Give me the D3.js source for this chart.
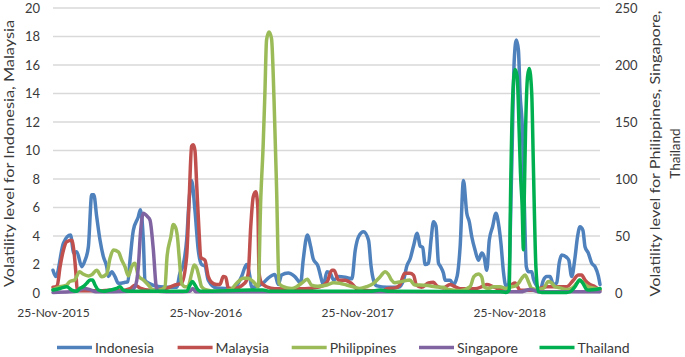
<!DOCTYPE html>
<html lang="en">
<head>
    <meta charset="UTF-8">
    <title>Volatility levels</title>
    <style>
        body { margin: 0; background: #fff; }
        svg text { font-family: Lato, "Liberation Sans", sans-serif; fill: #3a3a3a; }
        .grid line { stroke: #d9d9d9; stroke-width: 1.5; }
    </style>
</head>
<body>
<svg id="chart" width="685" height="357"></svg>
<script src="https://d3js.org/d3.v7.min.js"></script>
<script>
    // series names, in drawing order
    const countries = ["Indonesia", "Malaysia", "Philippines", "Singapore", "Thailand"];
    const colors = ["#4f81bd", "#c0504d", "#9bbb59", "#8064a2", "#00b050"];
    // which axis each series belongs to
    const onRight = [false, false, true, true, true];

    const xTickDates = ["2015-11-25", "2016-11-25", "2017-11-25", "2018-11-25"];
    const leftTicks = [0, 2, 4, 6, 8, 10, 12, 14, 16, 18, 20];
    const rightTicks = [0, 50, 100, 150, 200, 250];

    // values, [date, value]
    const indonesia = [
        ["2015-11-25", 1.6], ["2015-12-02", 1.15], ["2015-12-20", 3.5], ["2016-01-06", 4.07], ["2016-01-14", 2.8],
        ["2016-01-21", 2.9], ["2016-02-02", 1.85], ["2016-02-10", 2.3], ["2016-02-18", 3.25], ["2016-02-26", 6.9],
        ["2016-03-02", 6.9], ["2016-03-09", 5.35], ["2016-03-17", 3.7], ["2016-03-25", 2.55], ["2016-04-02", 1.85],
        ["2016-04-06", 1.15], ["2016-04-14", 1.5], ["2016-04-22", 1.15], ["2016-04-30", 0.68], ["2016-05-16", 0.75],
        ["2016-05-23", 0.8], ["2016-05-28", 2.3], ["2016-06-05", 4.4], ["2016-06-17", 5.35], ["2016-06-22", 5.85],
        ["2016-06-29", 3.7], ["2016-07-03", 0.9], ["2016-07-11", 0.7], ["2016-08-08", 0.44], ["2016-09-17", 0.4],
        ["2016-09-25", 1.4], ["2016-10-03", 2.0], ["2016-10-11", 3.7], ["2016-10-17", 6.5], ["2016-10-23", 7.9],
        ["2016-10-31", 5.8], ["2016-11-08", 3.0], ["2016-11-16", 2.0], ["2016-11-24", 1.9], ["2016-12-02", 0.9],
        ["2016-12-22", 0.35], ["2017-01-31", 0.3], ["2017-02-20", 1.15], ["2017-03-04", 2.0], ["2017-03-12", 1.15],
        ["2017-03-16", 0.4], ["2017-04-13", 0.7], ["2017-04-25", 1.05], ["2017-05-11", 1.3], ["2017-05-19", 0.6],
        ["2017-05-27", 1.26], ["2017-06-12", 1.4], ["2017-06-28", 1.15], ["2017-07-12", 0.7], ["2017-07-18", 2.3],
        ["2017-07-28", 4.07], ["2017-08-05", 3.25], ["2017-08-11", 2.4], ["2017-08-23", 1.85], ["2017-08-27", 1.4],
        ["2017-09-05", 0.56], ["2017-09-13", 1.5], ["2017-09-21", 1.4], ["2017-09-29", 0.9], ["2017-10-11", 1.15],
        ["2017-10-27", 1.1], ["2017-11-12", 1.0], ["2017-11-20", 3.0], ["2017-11-28", 3.95], ["2017-12-10", 4.3],
        ["2017-12-22", 3.7], ["2017-12-28", 1.9], ["2018-01-03", 0.9], ["2018-01-11", 0.5], ["2018-02-04", 0.4],
        ["2018-03-04", 0.4], ["2018-03-16", 0.9], ["2018-03-24", 1.9], ["2018-04-01", 2.4], ["2018-04-09", 3.3],
        ["2018-04-18", 4.2], ["2018-04-25", 3.3], ["2018-05-01", 3.2], ["2018-05-07", 2.0], ["2018-05-15", 2.1],
        ["2018-05-21", 3.7], ["2018-05-27", 5.0], ["2018-06-02", 4.7], ["2018-06-08", 2.1], ["2018-06-12", 1.9],
        ["2018-06-20", 1.38], ["2018-06-24", 0.9], ["2018-07-06", 0.9], ["2018-07-14", 0.6], ["2018-07-23", 1.2],
        ["2018-07-30", 3.25], ["2018-08-07", 7.9], ["2018-08-15", 5.6], ["2018-08-21", 5.0], ["2018-08-27", 3.95],
        ["2018-09-04", 3.0], ["2018-09-12", 2.3], ["2018-09-20", 2.8], ["2018-09-25", 2.6], ["2018-10-02", 1.6],
        ["2018-10-08", 3.7], ["2018-10-16", 4.65], ["2018-10-24", 5.6], ["2018-10-30", 4.9], ["2018-11-05", 3.5],
        ["2018-11-11", 1.5], ["2018-11-17", 0.5], ["2018-11-23", 0.6], ["2018-12-01", 8.9], ["2018-12-07", 16.35],
        ["2018-12-12", 17.75], ["2018-12-17", 17.05], ["2018-12-21", 14.0], ["2018-12-27", 11.2], ["2018-12-31", 6.5],
        ["2019-01-05", 1.85], ["2019-01-10", 1.5], ["2019-01-18", 1.5], ["2019-01-22", 1.0], ["2019-01-30", 0.5],
        ["2019-02-07", 0.2], ["2019-02-15", 0.9], ["2019-02-23", 1.15], ["2019-03-03", 1.15], ["2019-03-11", 0.6],
        ["2019-03-19", 0.7], ["2019-03-25", 2.1], ["2019-03-31", 2.67], ["2019-04-12", 2.5], ["2019-04-17", 2.3],
        ["2019-04-24", 1.15], ["2019-05-02", 2.5], ["2019-05-08", 3.95], ["2019-05-14", 4.65], ["2019-05-21", 4.4],
        ["2019-05-26", 3.25], ["2019-06-03", 2.8], ["2019-06-11", 2.1], ["2019-06-19", 1.85], ["2019-06-27", 1.2],
        ["2019-07-01", 0.6]
    ];

    const malaysia = [
        ["2015-11-25", 0.4], ["2015-12-05", 0.5], ["2015-12-12", 1.85], ["2015-12-20", 3.0], ["2015-12-28", 3.6],
        ["2016-01-09", 3.7], ["2016-01-14", 3.0], ["2016-01-19", 1.4], ["2016-01-22", 0.28], ["2016-01-29", 0.15],
        ["2016-03-17", 0.15], ["2016-04-10", 0.2], ["2016-05-04", 0.15], ["2016-05-28", 0.3], ["2016-06-09", 0.55],
        ["2016-06-21", 0.35], ["2016-07-15", 0.2], ["2016-08-20", 0.3], ["2016-09-13", 0.56], ["2016-09-29", 0.7],
        ["2016-10-11", 2.55], ["2016-10-17", 6.5], ["2016-10-23", 10.3], ["2016-10-27", 10.4], ["2016-10-31", 10.0],
        ["2016-11-04", 7.7], ["2016-11-10", 4.2], ["2016-11-14", 2.5], ["2016-11-24", 2.3], ["2016-12-02", 1.15],
        ["2016-12-10", 0.75], ["2016-12-22", 0.6], ["2016-12-30", 0.6], ["2017-01-07", 1.15], ["2017-01-13", 1.1],
        ["2017-01-19", 0.35], ["2017-01-31", 0.3], ["2017-02-28", 0.7], ["2017-03-08", 1.38], ["2017-03-14", 4.65],
        ["2017-03-20", 6.75], ["2017-03-26", 7.1], ["2017-03-31", 6.0], ["2017-04-03", 1.4], ["2017-04-09", 0.7],
        ["2017-04-21", 0.44], ["2017-05-11", 0.3], ["2017-06-16", 0.3], ["2017-07-22", 0.3], ["2017-08-27", 0.44],
        ["2017-09-13", 0.75], ["2017-09-25", 1.6], ["2017-09-30", 1.6], ["2017-10-11", 0.9], ["2017-10-27", 0.9],
        ["2017-11-07", 0.75], ["2017-11-15", 0.56], ["2017-11-23", 0.3], ["2017-12-25", 0.15], ["2018-01-26", 0.15],
        ["2018-02-04", 0.3], ["2018-02-23", 0.35], ["2018-03-07", 0.56], ["2018-03-19", 1.38], ["2018-03-31", 1.38],
        ["2018-04-09", 1.25], ["2018-04-16", 0.56], ["2018-04-28", 0.4], ["2018-05-15", 0.7], ["2018-05-27", 0.75],
        ["2018-06-04", 0.5], ["2018-06-20", 0.35], ["2018-07-06", 0.6], ["2018-07-14", 0.5], ["2018-07-30", 0.3],
        ["2018-09-04", 0.3], ["2018-09-20", 0.44], ["2018-10-02", 0.6], ["2018-10-17", 0.45], ["2018-11-03", 0.25],
        ["2018-11-17", 0.25], ["2018-12-01", 0.6], ["2018-12-09", 0.7], ["2018-12-21", 0.2], ["2019-01-22", 0.2],
        ["2019-02-23", 0.44], ["2019-04-12", 0.44], ["2019-04-28", 0.9], ["2019-05-10", 1.26], ["2019-05-18", 1.26],
        ["2019-05-26", 0.9], ["2019-06-07", 0.6], ["2019-06-19", 0.44], ["2019-07-01", 0.2]
    ];

    const philippines = [
        ["2015-11-25", 3], ["2015-12-12", 5.5], ["2015-12-28", 7], ["2016-01-04", 10], ["2016-01-16", 11.4],
        ["2016-01-28", 18.7], ["2016-02-05", 16.7], ["2016-02-18", 15], ["2016-02-26", 16], ["2016-03-09", 20],
        ["2016-03-21", 14.3], ["2016-04-02", 16.7], ["2016-04-10", 30.4], ["2016-04-18", 37.7], ["2016-04-30", 36],
        ["2016-05-08", 29], ["2016-05-16", 23], ["2016-05-24", 15], ["2016-06-01", 23], ["2016-06-09", 26],
        ["2016-06-17", 15], ["2016-06-29", 11.4], ["2016-07-11", 7], ["2016-07-23", 2.6], ["2016-08-08", 2.6],
        ["2016-08-20", 5.5], ["2016-08-25", 32], ["2016-09-03", 49], ["2016-09-09", 60], ["2016-09-14", 58],
        ["2016-09-19", 49], ["2016-09-23", 32], ["2016-09-29", 8.5], ["2016-10-07", 5.5], ["2016-10-14", 5.5],
        ["2016-10-23", 17], ["2016-10-29", 24.5], ["2016-11-04", 22], ["2016-11-10", 14], ["2016-11-16", 5.5],
        ["2016-11-28", 2.6], ["2016-12-22", 1.5], ["2017-01-23", 2.6], ["2017-02-08", 8.5], ["2017-02-24", 12.9],
        ["2017-03-08", 12.9], ["2017-03-20", 10], ["2017-04-01", 5.5], ["2017-04-07", 81.6], ["2017-04-13", 131],
        ["2017-04-17", 175], ["2017-04-21", 222], ["2017-04-27", 229], ["2017-05-03", 223], ["2017-05-09", 169],
        ["2017-05-15", 93], ["2017-05-21", 8.5], ["2017-05-31", 5.5], ["2017-06-20", 4], ["2017-07-02", 5.5],
        ["2017-07-14", 8.5], ["2017-07-28", 12], ["2017-08-07", 7], ["2017-08-22", 6], ["2017-09-13", 7],
        ["2017-09-29", 9], ["2017-10-14", 8.5], ["2017-10-30", 7], ["2017-11-15", 5.5], ["2017-12-01", 4],
        ["2017-12-17", 5.5], ["2018-01-03", 8.5], ["2018-01-19", 14.3], ["2018-01-31", 18.7], ["2018-02-07", 16.7],
        ["2018-02-15", 11.4], ["2018-02-23", 9], ["2018-03-11", 10], ["2018-03-31", 11.4], ["2018-04-12", 7],
        ["2018-04-24", 7], ["2018-05-14", 6.5], ["2018-05-31", 5.5], ["2018-06-20", 5], ["2018-07-02", 3],
        ["2018-07-30", 2], ["2018-08-23", 5.5], ["2018-09-01", 14.3], ["2018-09-12", 16.7], ["2018-09-20", 14],
        ["2018-09-25", 5.5], ["2018-10-06", 4], ["2018-10-18", 5.5], ["2018-11-03", 5.5], ["2018-11-17", 4],
        ["2018-12-01", 5.5], ["2018-12-09", 6], ["2018-12-17", 8.5], ["2018-12-25", 12.9], ["2019-01-02", 15.8],
        ["2019-01-10", 10], ["2019-01-18", 4], ["2019-01-30", 3], ["2019-02-15", 4], ["2019-02-27", 10],
        ["2019-03-06", 9], ["2019-03-15", 5.5], ["2019-03-27", 4.5], ["2019-04-12", 3], ["2019-04-24", 4],
        ["2019-05-06", 8.5], ["2019-05-14", 11.4], ["2019-05-22", 8.5], ["2019-06-03", 5.5], ["2019-06-19", 4],
        ["2019-07-01", 3]
    ];

    const singapore = [
        ["2015-11-25", 0.5], ["2016-01-04", 1], ["2016-01-24", 2], ["2016-02-07", 4], ["2016-02-22", 3],
        ["2016-03-07", 1], ["2016-05-28", 1.5], ["2016-06-09", 5.5], ["2016-06-17", 23], ["2016-06-22", 52],
        ["2016-06-29", 70], ["2016-07-09", 67], ["2016-07-15", 64], ["2016-07-23", 38], ["2016-07-30", 5.5],
        ["2016-08-04", 1.5], ["2016-09-13", 1], ["2016-10-19", 1.5], ["2016-10-26", 4], ["2016-11-02", 1],
        ["2017-04-05", 1], ["2017-07-10", 1], ["2018-01-19", 1], ["2018-07-06", 1.2], ["2018-11-03", 1],
        ["2018-12-21", 1], ["2019-01-14", 3], ["2019-02-07", 1], ["2019-05-02", 1], ["2019-07-01", 1]
    ];

    const thailand = [
        ["2015-11-25", 2.6], ["2015-12-12", 4], ["2015-12-28", 5.5], ["2016-01-09", 2.6], ["2016-01-21", 1.5],
        ["2016-01-28", 4], ["2016-02-05", 5.5], ["2016-02-14", 8.5], ["2016-02-22", 11.4], ["2016-02-28", 11.4],
        ["2016-03-05", 7], ["2016-03-13", 2.6], ["2016-03-25", 1.5], ["2016-04-10", 2.6], ["2016-04-26", 4],
        ["2016-05-04", 5.5], ["2016-05-12", 2.6], ["2016-05-28", 1.5], ["2016-06-29", 1.5], ["2016-10-11", 1.5],
        ["2016-10-19", 7], ["2016-10-25", 10], ["2016-10-31", 7], ["2016-11-08", 2.6], ["2016-11-16", 1.5],
        ["2017-03-12", 2.6], ["2017-04-12", 2.6], ["2017-04-29", 1.5], ["2017-12-25", 1.5], ["2018-01-19", 2.6],
        ["2018-02-11", 1.5], ["2018-11-03", 1.1], ["2018-11-17", 0.5], ["2018-11-25", 2.6], ["2018-11-28", 81.6],
        ["2018-12-03", 169], ["2018-12-09", 196], ["2018-12-14", 190], ["2018-12-19", 140], ["2018-12-22", 105],
        ["2018-12-26", 76], ["2018-12-29", 38], ["2018-12-31", 82], ["2019-01-03", 140], ["2019-01-08", 190],
        ["2019-01-12", 197], ["2019-01-18", 175], ["2019-01-22", 111], ["2019-01-28", 23], ["2019-02-03", 1.1],
        ["2019-02-11", 0.5], ["2019-04-12", 0.5], ["2019-04-20", 1.1], ["2019-05-02", 5.5], ["2019-05-13", 11.4],
        ["2019-05-21", 8.5], ["2019-05-30", 3], ["2019-06-07", 2.6], ["2019-06-19", 3], ["2019-07-01", 4]
    ];

    const seriesValues = [indonesia, malaysia, philippines, singapore, thailand];

    const svg = d3.select("#chart");
    const parse = d3.timeParse("%Y-%m-%d");
    const plot = { left: 53, right: 600, top: 8, bottom: 293 };

    const x = d3.scaleTime()
        .domain([parse("2015-11-25"), parse("2019-07-01")])
        .range([plot.left, plot.right]);
    const yLeft = d3.scaleLinear().domain([0, 20]).range([plot.bottom, plot.top]);
    const yRight = d3.scaleLinear().domain([0, 250]).range([plot.bottom, plot.top]);

    // horizontal gridlines
    svg.append("g").attr("class", "grid")
        .selectAll("line").data(leftTicks).join("line")
        .attr("x1", plot.left).attr("x2", plot.right)
        .attr("y1", d => yLeft(d)).attr("y2", d => yLeft(d));

    // axes (labels only, no tick marks)
    const leftAxis = svg.append("g")
        .attr("transform", `translate(${plot.left},0)`)
        .call(d3.axisLeft(yLeft).tickValues(leftTicks).tickSize(0).tickPadding(13));
    const rightAxis = svg.append("g")
        .attr("transform", `translate(${plot.right},0)`)
        .call(d3.axisRight(yRight).tickValues(rightTicks).tickSize(0).tickPadding(15));
    const bottomAxis = svg.append("g")
        .attr("transform", `translate(0,${plot.bottom})`)
        .call(d3.axisBottom(x).tickValues(xTickDates.map(parse))
            .tickFormat(d3.timeFormat("%d-%b-%Y")).tickSize(0).tickPadding(15));

    [leftAxis, rightAxis, bottomAxis].forEach(a => {
        a.select(".domain").remove();
        a.selectAll("text").attr("font-family", null).attr("fill", "#3a3a3a");
    });
    leftAxis.selectAll("text").attr("font-size", 13);
    rightAxis.selectAll("text").attr("font-size", 13);
    bottomAxis.selectAll("text").attr("font-size", 12);

    // lines
    const line = yScale => d3.line()
        .x(d => x(parse(d[0])))
        .y(d => yScale(d[1]))
        .curve(d3.curveMonotoneX);

    svg.append("g").selectAll("path").data(seriesValues).join("path")
        .attr("fill", "none")
        .attr("stroke", (d, i) => colors[i])
        .attr("stroke-width", 3.5)
        .attr("stroke-linejoin", "round")
        .attr("stroke-linecap", "round")
        .attr("d", (d, i) => line(onRight[i] ? yRight : yLeft)(d));

    // axis titles
    svg.append("text")
        .attr("transform", "translate(14,153.5) rotate(-90)")
        .attr("text-anchor", "middle")
        .attr("font-size", 13)
        .attr("textLength", 267).attr("lengthAdjust", "spacingAndGlyphs")
        .text("Volatility level for Indonesia, Malaysia");

    const rt = svg.append("text")
        .attr("transform", "translate(660,153.5) rotate(-90)")
        .attr("text-anchor", "middle")
        .attr("font-size", 13.5);
    rt.append("tspan").attr("x", 0).attr("y", 0)
        .attr("textLength", 286).attr("lengthAdjust", "spacingAndGlyphs")
        .text("Volatility level for Philippines, Singapore,");
    rt.append("tspan").attr("x", 0).attr("y", 20)
        .text("Thailand");

    // legend
    const legendX = [57, 177.6, 291.7, 419, 539.5];
    const legend = svg.append("g").selectAll("g").data(countries).join("g")
        .attr("transform", (d, i) => `translate(${legendX[i]},347.5)`);
    legend.append("line")
        .attr("x1", 0).attr("x2", 35)
        .attr("stroke", (d, i) => colors[i])
        .attr("stroke-width", 3.5);
    legend.append("text")
        .attr("x", 38).attr("y", 5)
        .attr("font-size", 14)
        .text(d => d);
</script>
</body>
</html>
